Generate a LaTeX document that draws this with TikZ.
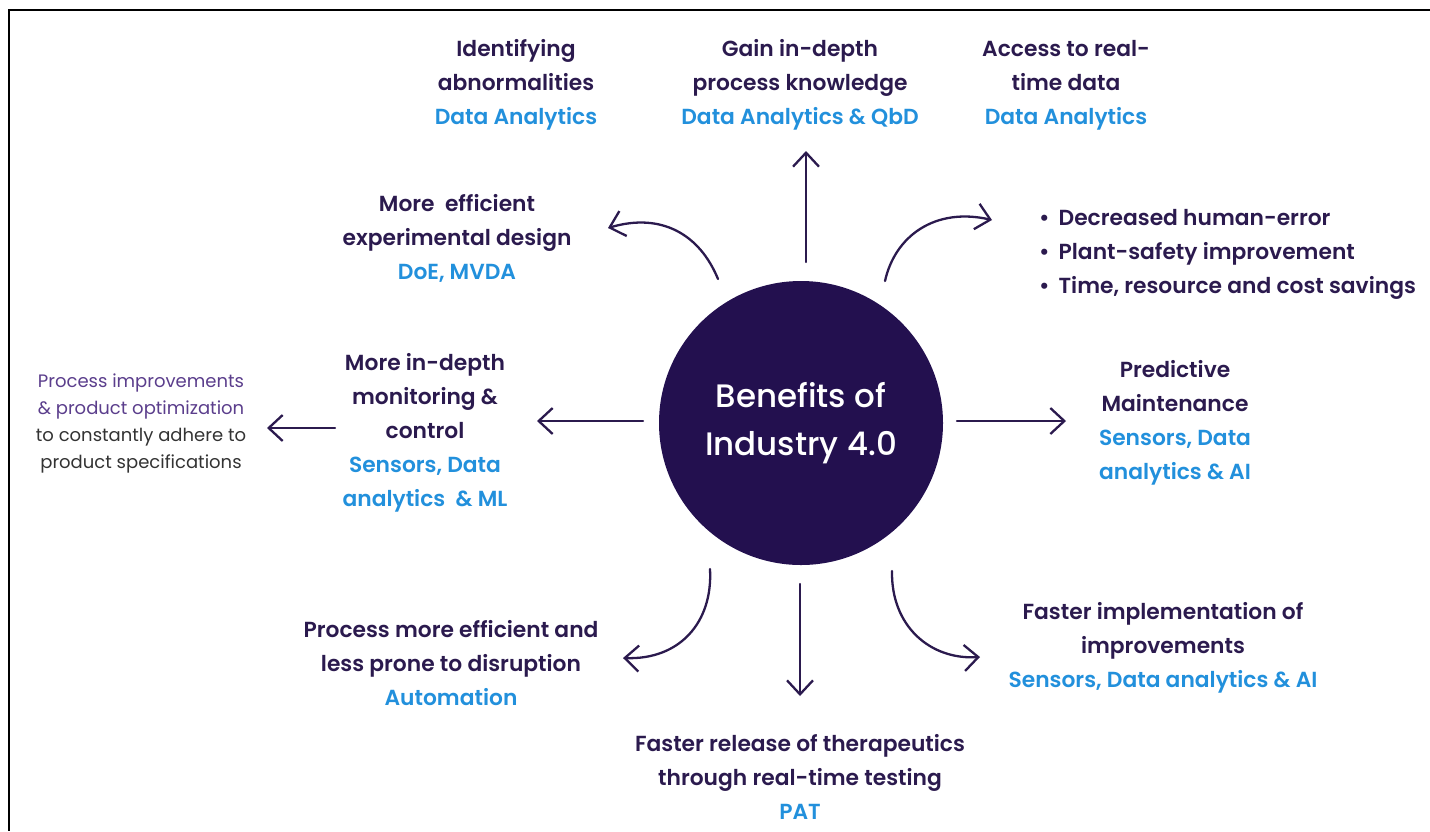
\documentclass[tikz,border=0pt]{standalone}
\usepackage{fontspec}
\setmainfont{Poppins}
\newfontfamily\semib{Poppins SemiBold}
\newfontfamily\med{Poppins Medium}
\usetikzlibrary{arrows.meta}
\definecolor{ink}{HTML}{2B1A4E}
\definecolor{navy}{HTML}{23104F}
\definecolor{sky}{HTML}{2290DC}
\definecolor{lilac}{HTML}{5B3E8C}
\definecolor{greytext}{HTML}{333333}
\newcommand{\bulletitem}{\textbullet\hspace{9pt}}
\begin{document}
\begin{tikzpicture}[x=1pt,y=-1pt,
  lbl/.style={align=center, font=\semib\fontsize{21.8}{34}\selectfont, text=ink, inner sep=0pt},
  note/.style={align=center, font=\fontsize{18}{27}\selectfont, text=greytext, inner sep=0pt},
  hub/.style={circle, fill=navy, minimum size=284pt, inner sep=0pt, align=center,
    text=white, font=\med\fontsize{32.5}{48}\selectfont},
  link/.style={draw=ink, line width=2.3pt, line cap=round,
    -{Straight Barb[length=14pt,width=26pt,line width=2.3pt]}},
  frameline/.style={draw=black, line width=2.6pt}
]
\useasboundingbox (0,0) rectangle (1430,831);
\draw[frameline] (1430,10) -- (9,10) -- (9,831);

% centre
\node[hub] (hub) at (801,423) {Benefits of\\Industry 4.0};

% outcome labels
\node[lbl] (abn) at (516,85) {Identifying\\abnormalities\\{\color{sky}Data Analytics}};
\node[lbl] (gain) at (800,85) {Gain in-depth\\process knowledge\\{\color{sky}Data Analytics \& QbD}};
\node[lbl] (acc) at (1066,85) {Access to real-\\time data\\{\color{sky}Data Analytics}};
\node[lbl] (doe) at (457,238) {More\ \ efficient\\experimental design\\{\color{sky}DoE, MVDA}};
\node[lbl, align=left, anchor=west] (bul) at (1039,254)
  {\bulletitem Decreased human-error\\\bulletitem Plant-safety improvement\\\bulletitem Time, resource and cost savings};
\node[lbl] (mon) at (425,433) {More in-depth\\monitoring \&\\control\\{\color{sky}Sensors, Data}\\{\color{sky}analytics\ \ \& ML}};
\node[note] (imp) at (141,423) {{\color{lilac}Process improvements}\\{\color{lilac}\& product optimization}\\to constantly adhere to\\product specifications};
\node[lbl] (pm) at (1175,423) {Predictive\\Maintenance\\{\color{sky}Sensors, Data}\\{\color{sky}analytics \& AI}};
\node[lbl] (auto) at (451,663) {Process more efficient and\\less prone to disruption\\{\color{sky}Automation}};
\node[lbl] (fast) at (1163,648) {Faster implementation of\\improvements\\{\color{sky}Sensors, Data analytics \& AI}};
\node[lbl] (pat) at (800,777) {Faster release of therapeutics\\through real-time testing\\{\color{sky}PAT}};

% connector end points
\coordinate (upS) at (806,262);   \coordinate (upE) at (806,151);
\coordinate (ulS) at (718,279);   \coordinate (ulE) at (608,228);
\coordinate (urS) at (885,281);   \coordinate (urE) at (992,220);
\coordinate (lS) at (643,421);    \coordinate (lE) at (537,421);
\coordinate (llS) at (335,428);   \coordinate (llE) at (267,428);
\coordinate (rS) at (957,421);    \coordinate (rE) at (1066,421);
\coordinate (dS) at (800,584);    \coordinate (dE) at (800,696);
\coordinate (dlS) at (710,569);   \coordinate (dlE) at (623,658);
\coordinate (drS) at (892,571);   \coordinate (drE) at (980,657);

\draw[link] (upS) -- (upE);
\draw[link] (ulS) .. controls (700,235) and (662,212) .. (ulE);
\draw[link] (urS) .. controls (895,236) and (935,207) .. (urE);
\draw[link] (lS) -- (lE);
\draw[link] (llS) -- (llE);
\draw[link] (rS) -- (rE);
\draw[link] (dS) -- (dE);
\draw[link] (dlS) .. controls (713,622) and (680,660) .. (dlE);
\draw[link] (drS) .. controls (891,626) and (930,660) .. (drE);
\end{tikzpicture}
\end{document}
